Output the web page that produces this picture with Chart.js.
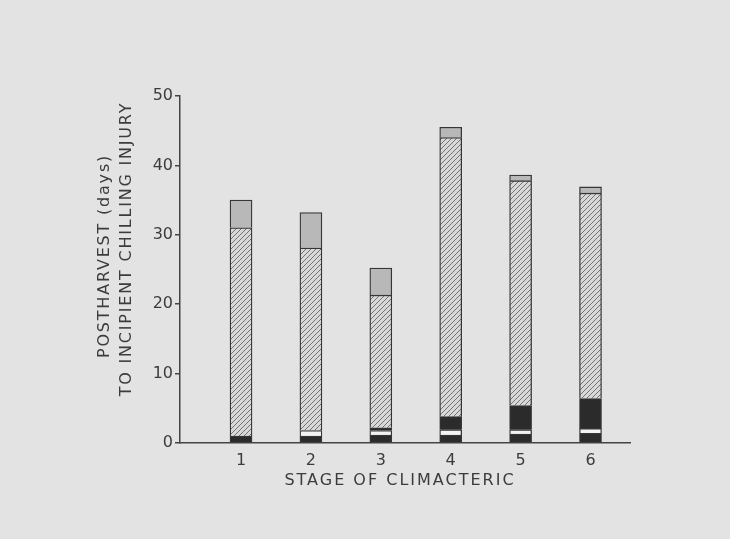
<!DOCTYPE html>
<html>
<head>
<meta charset="utf-8">
<script src="https://cdn.jsdelivr.net/npm/chart.js"></script>
<style>
  html, body { margin: 0; padding: 0; background: #e3e3e3; }
  #wrap { width: 730px; height: 539px; position: relative; }
</style>
</head>
<body>
<div id="wrap"><canvas id="chart"></canvas></div>
<script>
  const stages = [1, 2, 3, 4, 5, 6];
  // segment heights (days), stacked from the bottom of each bar upward
  const blackLow = [1.0, 1.0, 1.15, 1.15, 1.3, 1.4];
  const whiteBand = [0, 0.8, 0.65, 0.75, 0.6, 0.7];
  const blackHigh = [0, 0, 0.4, 1.9, 3.5, 4.3];
  const hatched = [30.0, 26.3, 19.1, 40.2, 32.4, 29.6];
  const stippled = [4.0, 5.1, 3.9, 1.5, 0.8, 0.9];
  const yTitle = ['POSTHARVEST (days)', 'TO INCIPIENT CHILLING INJURY'];
  const xTitle = 'STAGE OF CLIMACTERIC';

  const ink = '#3c3c3c';
  const font = '"DejaVu Sans", sans-serif';

  // diagonal hatch like the original "////" fill
  function hatchPattern() {
    const c = document.createElement('canvas');
    c.width = 5; c.height = 5;
    const g = c.getContext('2d');
    g.fillStyle = '#d8d8d8';
    g.fillRect(0, 0, 5, 5);
    g.strokeStyle = '#727272';
    g.lineWidth = 1;
    g.beginPath();
    g.moveTo(0, 5); g.lineTo(5, 0);
    g.moveTo(-1, 1); g.lineTo(1, -1);
    g.moveTo(4, 6); g.lineTo(6, 4);
    g.stroke();
    return g.createPattern(c, 'repeat');
  }

  // axis titles placed like the original lettering
  const axisTitles = {
    id: 'axisTitles',
    afterDraw(chart) {
      const ctx = chart.ctx;
      ctx.save();
      ctx.fillStyle = ink;
      ctx.font = '16px ' + font;
      ctx.textAlign = 'center';
      ctx.textBaseline = 'middle';
      ctx.letterSpacing = '2px';
      ctx.fillText(xTitle, 400, 481);
      ctx.letterSpacing = '1.8px';
      ctx.translate(105, 256);
      ctx.rotate(-Math.PI / 2);
      ctx.fillText(yTitle[0], 0, 0);
      ctx.fillText(yTitle[1], 7, 22);
      ctx.restore();
    }
  };

  function seg(data, color) {
    return {
      data: data,
      backgroundColor: color,
      borderColor: '#363636',
      borderWidth: 1.3,
      barThickness: 22,
      stack: 'a'
    };
  }

  const ctx = document.getElementById('chart').getContext('2d');
  new Chart(ctx, {
    type: 'bar',
    data: {
      labels: stages,
      datasets: [
        seg(blackLow, '#2b2b2b'),
        seg(whiteBand, '#f3f3f3'),
        seg(blackHigh, '#2b2b2b'),
        seg(hatched, hatchPattern()),
        seg(stippled, '#b8b8b8')
      ]
    },
    options: {
      responsive: true,
      maintainAspectRatio: false,
      animation: false,
      layout: { padding: { top: 96, right: 100, left: 0, bottom: 0 } },
      plugins: { legend: { display: false }, tooltip: { enabled: false } },
      scales: {
        x: {
          type: 'linear',
          stacked: true,
          offset: false,
          min: 0.127,
          max: 6.565,
          afterBuildTicks: s => { s.ticks = stages.map(v => ({ value: v })); },
          afterFit: s => { s.height = 96; },
          ticks: { color: ink, font: { family: font, size: 16 }, padding: 8 },
          grid: { display: true, offset: false, drawOnChartArea: false, drawTicks: false },
          border: { display: true, color: '#444', width: 1.5 }
        },
        y: {
          stacked: true,
          min: 0,
          max: 50,
          afterFit: s => { s.width = 180; },
          ticks: { stepSize: 10, color: ink, font: { family: font, size: 16 }, padding: 2 },
          grid: { display: true, drawOnChartArea: false, tickLength: 5, color: '#444', lineWidth: 1.5 },
          border: { display: true, color: '#444', width: 1.5 }
        }
      }
    },
    plugins: [axisTitles]
  });
</script>
</body>
</html>
